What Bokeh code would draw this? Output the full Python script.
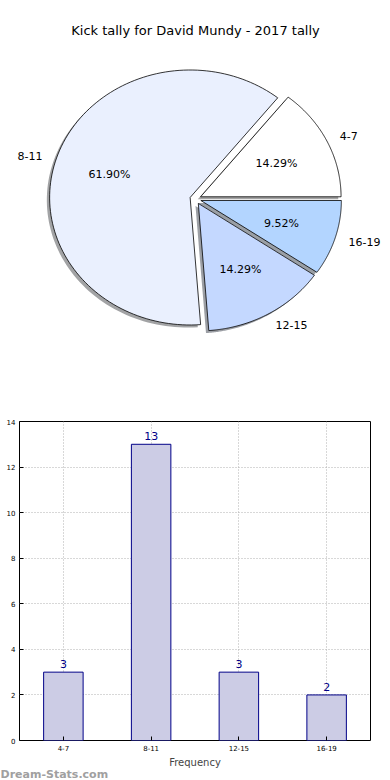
import numpy as np
from bokeh.plotting import figure
from bokeh.models import Range1d, FactorRange, ColumnDataSource, Title
from bokeh.layouts import column
from bokeh.embed import file_html
from bokeh.resources import INLINE
from bokeh.core.properties import value

# ---------------- data ----------------
title_text = "Kick tally for David Mundy - 2017 tally"
categories = ["4-7", "8-11", "12-15", "16-19"]
counts = [3, 13, 3, 2]
pie_colors = ["#FFFFFF", "#EAF0FE", "#C4D8FF", "#B3D5FF"]
bar_fill = "#CCCCE5"
bar_line = "#000088"
x_label = "Frequency"
y_ticks = [0, 2, 4, 6, 8, 10, 12, 14]
watermark = "Dream-Stats.com"

FONT = "DejaVu Sans"
W = 390
PH = 400
BH = 380
L, R = 19, 20

# ---------------- pie ----------------
pie = figure(width=W, height=PH, x_range=Range1d(0, W), y_range=Range1d(0, PH),
             output_backend="svg", toolbar_location=None, min_border=0,
             x_axis_location=None, y_axis_location=None)
pie.frame_align = False
pie.grid.visible = False
pie.outline_line_color = None

cx, cy = 195.0, 201.5
rx, ry = 140.5, 127.5
explode = 0.04
shadow = 0.02

total = float(sum(counts))
fracs = [c / total for c in counts]
starts = np.cumsum([0.0] + fracs[:-1]) * 2 * np.pi
ends = np.cumsum(fracs) * 2 * np.pi

xs, ys, sxs, sys_ = [], [], [], []
shadow_cols = []
pct = dict(x=[], y=[], t=[])
lab_left = dict(x=[], y=[], t=[])
lab_right = dict(x=[], y=[], t=[])
for i, (a0, a1) in enumerate(zip(starts, ends)):
    mid = 0.5 * (a0 + a1)
    ox = cx + explode * rx * np.cos(mid)
    oy = cy + explode * ry * np.sin(mid)
    th = np.linspace(a0, a1, 120)
    px = np.concatenate([[ox], ox + rx * np.cos(th), [ox]])
    py = np.concatenate([[oy], oy + ry * np.sin(th), [oy]])
    xs.append(list(px))
    ys.append(list(py))
    sxs.append(list(px - shadow * rx))
    sys_.append(list(py - shadow * ry))
    h = pie_colors[i].lstrip("#")
    r, g, b = (int(h[k:k + 2], 16) for k in (0, 2, 4))
    shadow_cols.append("#%02x%02x%02x" % (int(r * 0.3), int(g * 0.3), int(b * 0.3)))
    pct["x"].append(ox + 0.6 * rx * np.cos(mid))
    pct["y"].append(oy + 0.6 * ry * np.sin(mid))
    pct["t"].append("%.2f%%" % (fracs[i] * 100))
    lx = ox + 1.1 * rx * np.cos(mid)
    ly = oy + 1.1 * ry * np.sin(mid)
    d = lab_left if np.cos(mid) > 0 else lab_right
    d["x"].append(lx)
    d["y"].append(ly)
    d["t"].append(categories[i])

pie.patches(xs=sxs, ys=sys_, fill_color=shadow_cols, fill_alpha=0.5, line_color=None)
pie.patches(xs=xs, ys=ys, fill_color=pie_colors, line_color="black", line_width=0.8)

pie.text(x="x", y="y", text="t", source=ColumnDataSource(pct), text_align="center",
         text_baseline="middle", text_font=value(FONT), text_font_size="11px", text_color="black")
pie.text(x="x", y="y", text="t", source=ColumnDataSource(lab_left), text_align="left",
         text_baseline="middle", text_font=value(FONT), text_font_size="11px", text_color="black")
pie.text(x="x", y="y", text="t", source=ColumnDataSource(lab_right), text_align="right",
         text_baseline="middle", text_font=value(FONT), text_font_size="11px", text_color="black")
pie.text(x=[195], y=[PH - 30], text=[title_text], text_align="center", text_baseline="middle",
         text_font=value(FONT), text_font_size="13px", text_color="black")

# ---------------- bar ----------------
bar = figure(width=W, height=BH, x_range=FactorRange(*categories), y_range=Range1d(0, 14),
             output_backend="svg", toolbar_location=None,
             min_border_left=L, min_border_right=R, min_border_top=21, min_border_bottom=40)
bar.frame_align = False
src = ColumnDataSource(dict(cat=categories, cnt=counts, lbl=[str(c) for c in counts]))
bar.vbar(x="cat", top="cnt", width=0.45, source=src, fill_color=bar_fill,
         line_color=bar_line, line_width=1)
bar.text(x="cat", y="cnt", text="lbl", source=src, text_align="center", text_baseline="bottom",
         y_offset=-4, text_color=bar_line, text_font_size="11px", text_font=value(FONT))

bar.yaxis.ticker = y_ticks
for ax in (bar.xaxis, bar.yaxis):
    ax.major_label_text_font_size = "7px"
    ax.major_label_text_font = FONT
    ax.major_label_text_color = "black"
    ax.major_tick_in = 4
    ax.major_tick_out = 0
    ax.minor_tick_line_color = None
    ax.axis_line_color = None
    ax.major_label_standoff = 4
bar.xaxis.axis_label = x_label
bar.xaxis.axis_label_text_font = FONT
bar.xaxis.axis_label_text_font_size = "10px"
bar.xaxis.axis_label_text_font_style = "normal"
bar.xaxis.axis_label_standoff = 3
for gr in (bar.xgrid, bar.ygrid):
    gr.grid_line_color = "#b0b0b0"
    gr.grid_line_dash = "1 2"
    gr.grid_line_width = 1
bar.outline_line_color = "black"
bar.outline_line_width = 1
bar.outline_line_alpha = 1

bar.add_layout(Title(text=watermark, align="left", offset=-L, standoff=-10,
                     text_color="#a0a0a0", text_font_size="11px", text_font_style="bold",
                     text_font=FONT), "below")

layout = column(pie, bar)
open("out.html", "w").write(file_html(layout, INLINE))
